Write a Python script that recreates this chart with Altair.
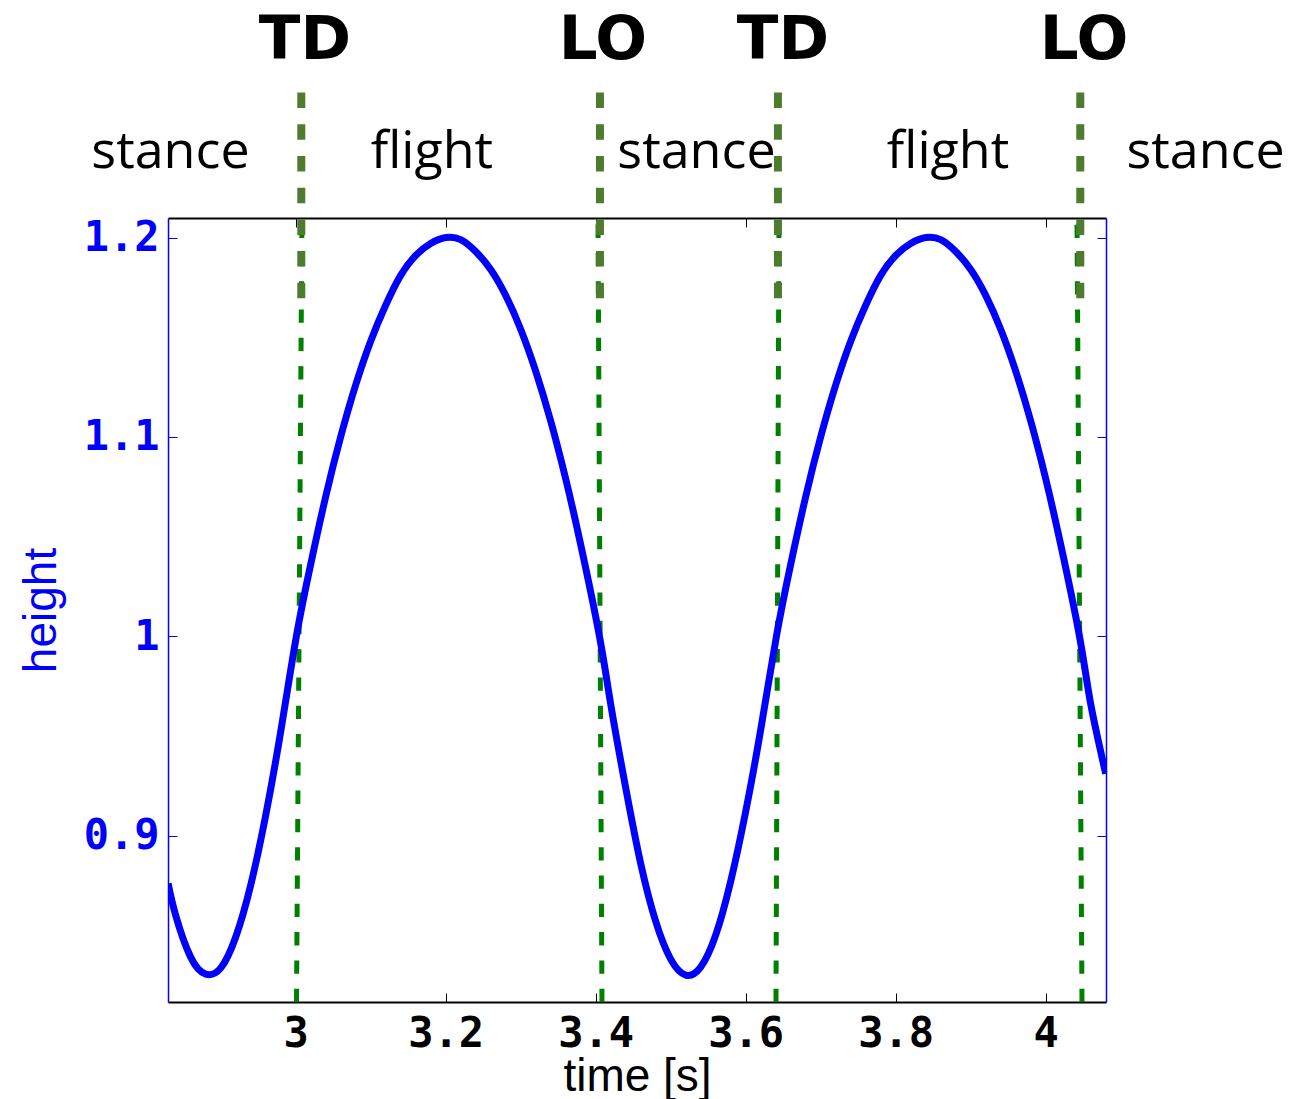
import altair as alt
import pandas as pd

# ---- height trace ----
time_s = [
    2.830, 2.840, 2.860, 2.880, 2.900, 2.920, 2.940, 2.960, 2.980, 3.001,
    3.020, 3.040, 3.060, 3.080, 3.100, 3.120, 3.140, 3.160, 3.180, 3.200,
    3.220, 3.240, 3.260, 3.280, 3.300, 3.320, 3.340, 3.360, 3.380, 3.405,
    3.420, 3.440, 3.460, 3.480, 3.500, 3.520, 3.540, 3.560, 3.580, 3.600,
    3.620, 3.641,
    3.660, 3.680, 3.700, 3.720, 3.740, 3.760, 3.780, 3.800, 3.820, 3.840,
    3.860, 3.880, 3.900, 3.920, 3.940, 3.960, 3.980, 4.000, 4.020, 4.045,
    4.060, 4.080,
]
height = [
    0.876, 0.860, 0.839, 0.8305, 0.8335, 0.849, 0.875, 0.910, 0.952, 1.000,
    1.036, 1.070, 1.100, 1.126, 1.148, 1.166, 1.181, 1.191, 1.197, 1.200,
    1.199, 1.193, 1.184, 1.171, 1.154, 1.133, 1.108, 1.079, 1.046, 1.000,
    0.966, 0.924, 0.886, 0.857, 0.838, 0.830, 0.834, 0.850, 0.877, 0.912,
    0.953, 1.000,
    1.036, 1.070, 1.100, 1.126, 1.148, 1.166, 1.181, 1.191, 1.197, 1.200,
    1.199, 1.193, 1.184, 1.171, 1.154, 1.133, 1.108, 1.079, 1.046, 1.000,
    0.966, 0.931,
]

# ---- events (touch-down / lift-off) ----
event_labels = ["TD", "LO", "TD", "LO"]
event_t_plot_bottom = [3.0011, 3.4084, 3.6404, 4.0484]
event_t_plot_top = [3.0084, 3.4031, 3.6444, 4.0417]
event_t_marker = [3.0075, 3.4057, 3.6430, 4.0461]
event_t_label = [3.0124, 3.4097, 3.6497, 4.0511]

phase_labels = ["stance", "flight", "stance", "flight", "stance"]
phase_t = [2.8331, 3.1817, 3.5344, 3.8697, 4.2131]

# ---- axes ----
x_ticks = [3, 3.2, 3.4, 3.6, 3.8, 4]
y_ticks = [0.9, 1.0, 1.1, 1.2]
x_domain = [2.8298, 4.0804]
y_domain = [0.8165, 1.2098]

phase_level = 1.2351
event_label_level = 1.2897
marker_top = 1.2727
marker_bottom = 1.1694

BLUE = "#0000FF"
LABEL_FONT = "DejaVu Sans Mono"

xs = alt.Scale(domain=x_domain, nice=False, zero=False)
ys = alt.Scale(domain=y_domain, nice=False, zero=False)

curve_df = pd.DataFrame({"t": time_s, "h": height})

green_df = pd.DataFrame({
    "tb": event_t_plot_bottom,
    "tt": event_t_plot_top,
    "yb": [y_domain[0]] * len(event_labels),
    "yt": [y_domain[1]] * len(event_labels),
})
olive_df = pd.DataFrame({
    "t": event_t_marker,
    "ytop": [marker_top] * len(event_labels),
    "ybot": [marker_bottom] * len(event_labels),
})
event_df = pd.DataFrame({"t": event_t_label, "label": event_labels,
                         "y": [event_label_level] * len(event_labels)})
phase_df = pd.DataFrame({"t": phase_t, "label": phase_labels,
                         "y": [phase_level] * len(phase_labels)})

common_label = dict(labelFont=LABEL_FONT, labelFontWeight="bold", labelFontSize=42,
                    labelFlush=False, labelOverlap=False, format="~g", grid=False)

# main axes: labels + left/bottom frame
x_main = alt.Axis(values=x_ticks, orient="bottom", ticks=False, tickSize=0,
                  labelColor="black", labelPadding=11.5,
                  domain=True, domainColor="black", domainWidth=2,
                  title="time [s]", titleFont="Liberation Sans", titleFontSize=46,
                  titleFontWeight="normal", titleColor="black",
                  titleBaseline="alphabetic", titleY=88, **common_label)
y_main = alt.Axis(values=y_ticks, orient="left", ticks=False, tickSize=0,
                  labelColor=BLUE, labelPadding=9,
                  domain=True, domainColor=BLUE, domainWidth=1.5,
                  title="height", titleFont="Liberation Sans", titleFontSize=46,
                  titleFontWeight="normal", titleColor=BLUE, titleAngle=270,
                  titleBaseline="alphabetic", titleAlign="center",
                  titleX=-113, titleY=392, **common_label)

curve = alt.Chart(curve_df).mark_line(
    color=BLUE, strokeWidth=7, interpolate="natural", clip=True
).encode(
    x=alt.X("t:Q", scale=xs, axis=x_main),
    y=alt.Y("h:Q", scale=ys, axis=y_main),
)

def tick_axis(orient, values, color, offset):
    return alt.Axis(values=values, orient=orient, offset=offset, ticks=True, tickSize=9,
                    tickColor=color, tickWidth=1, labels=False, domain=False,
                    grid=False, title=None)

def frame_axis(orient, color, width):
    return alt.Axis(orient=orient, ticks=False, labels=False, domain=True,
                    domainColor=color, domainWidth=width, grid=False, title=None)

ticks_bl = alt.Chart(curve_df).mark_line(opacity=0).encode(
    x=alt.X("t:Q", scale=xs, axis=tick_axis("bottom", x_ticks, "black", -9)),
    y=alt.Y("h:Q", scale=ys, axis=tick_axis("left", y_ticks, BLUE, -9)),
)
frame_tr = alt.Chart(curve_df).mark_line(opacity=0).encode(
    x=alt.X("t:Q", scale=xs, axis=frame_axis("top", "black", 2)),
    y=alt.Y("h:Q", scale=ys, axis=frame_axis("right", BLUE, 1.5)),
)
ticks_tr = alt.Chart(curve_df).mark_line(opacity=0).encode(
    x=alt.X("t:Q", scale=xs, axis=tick_axis("top", x_ticks, "black", -9)),
    y=alt.Y("h:Q", scale=ys, axis=tick_axis("right", y_ticks, BLUE, -9)),
)

green = alt.Chart(green_df).mark_rule(
    color="#008000", strokeWidth=5, strokeDash=[13.3, 15], clip=False
).encode(
    x=alt.X("tb:Q", scale=xs, axis=None),
    y=alt.Y("yb:Q", scale=ys, axis=None),
    x2="tt:Q",
    y2="yt:Q",
)

olive = alt.Chart(olive_df).mark_rule(
    color="#4d7c2e", strokeWidth=8, strokeDash=[15.5, 16.2], clip=False
).encode(
    x=alt.X("t:Q", scale=xs, axis=None),
    y=alt.Y("ytop:Q", scale=ys, axis=None),
    y2="ybot:Q",
)

phase_text = alt.Chart(phase_df).mark_text(
    font="Open Sans", fontSize=52, baseline="alphabetic", align="center", color="black"
).encode(
    x=alt.X("t:Q", scale=xs, axis=None),
    y=alt.Y("y:Q", scale=ys, axis=None),
    text="label:N",
)

event_text = alt.Chart(event_df).mark_text(
    font="DejaVu Sans", fontSize=61, fontWeight="bold", baseline="alphabetic",
    align="center", color="black"
).encode(
    x=alt.X("t:Q", scale=xs, axis=None),
    y=alt.Y("y:Q", scale=ys, axis=None),
    text="label:N",
)

chart = alt.layer(
    ticks_bl, frame_tr, ticks_tr, green, olive, curve, phase_text, event_text
).resolve_axis(
    x="independent", y="independent"
).properties(
    width=938, height=784,
    padding={"left": 168, "top": 218, "right": 203, "bottom": 97},
    autosize=alt.AutoSizeParams(type="none"),
    background="white",
).configure_view(strokeWidth=0)

chart.save("out.html", embed_options={"renderer": "svg", "actions": False})
